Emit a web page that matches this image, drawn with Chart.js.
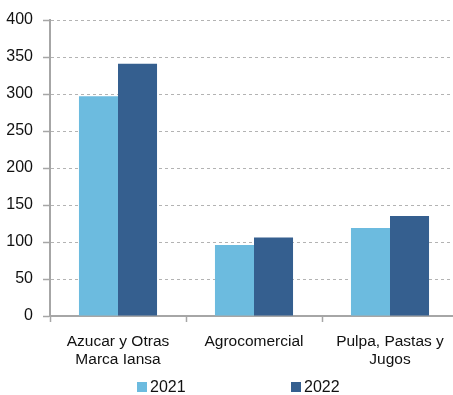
<!DOCTYPE html>
<html>
<head>
<meta charset="utf-8">
<script src="https://cdn.jsdelivr.net/npm/chart.js@4.4.1/dist/chart.umd.min.js"></script>
<style>
html,body{margin:0;padding:0;overflow:hidden;background:#fff;}
#wrap{width:458px;height:395px;position:relative;}
</style>
</head>
<body>
<div id="wrap"><canvas id="c"></canvas></div>
<script>
const categories = [["Azucar y Otras", "Marca Iansa"], "Agrocomercial", ["Pulpa, Pastas y", "Jugos"]];
const seriesNames = ["2021", "2022"];
const values2021 = [297, 96, 119];
const values2022 = [341, 106, 135];
const yTicks = [0, 50, 100, 150, 200, 250, 300, 350, 400];
const colors = ["#6cbbdf", "#355f8f"];

const FONT = "'Liberation Sans', Arial, sans-serif";

const legendPlugin = {
  id: 'customLegend',
  afterDraw(chart) {
    const ctx = chart.ctx;
    const items = chart.data.datasets;
    const xs = [137, 291];
    const y = 387;
    ctx.save();
    ctx.font = "16px " + FONT;
    ctx.textBaseline = 'middle';
    items.forEach((ds, i) => {
      ctx.fillStyle = ds.backgroundColor;
      ctx.fillRect(xs[i], y - 5, 10, 10);
      ctx.fillStyle = '#111';
      ctx.fillText(ds.label, xs[i] + 13, y + 1);
    });
    ctx.restore();
  }
};

new Chart(document.getElementById('c'), {
  type: 'bar',
  data: {
    labels: categories,
    datasets: [
      { label: seriesNames[0], data: values2021, backgroundColor: colors[0], borderColor: '#8cc9e6', borderWidth: 0 },
      { label: seriesNames[1], data: values2022, backgroundColor: colors[1], borderColor: '#4a73a0', borderWidth: 0 }
    ]
  },
  options: {
    responsive: true,
    maintainAspectRatio: false,
    animation: false,
    layout: { padding: { top: 20, right: 0, left: 0, bottom: 0 } },
    plugins: { legend: { display: false }, tooltip: { enabled: false } },
    datasets: { bar: { categoryPercentage: 0.574, barPercentage: 1.0 } },
    scales: {
      x: {
        afterFit(scale) { scale.height = 79; },
        grid: { drawOnChartArea: false, drawTicks: true, offset: true, tickLength: 6, tickColor: '#a6a6a6', tickWidth: 1.5 },
        border: { color: '#a6a6a6', width: 2 },
        ticks: { color: '#111', font: { family: FONT, size: 15.5 }, padding: 10, maxRotation: 0, autoSkip: false }
      },
      y: {
        min: 0, max: 400,
        afterFit(scale) { scale.width = 50; },
        afterBuildTicks(scale) { scale.ticks = yTicks.map(v => ({ value: v })); },
        grid: { color: '#b3b3b3', lineWidth: 1, drawTicks: true, tickLength: 7, tickColor: '#a6a6a6', tickBorderDash: [], tickWidth: 1.5 },
        border: { color: '#a6a6a6', width: 2, dash: [3, 3] },
        ticks: { color: '#111', font: { family: FONT, size: 16 }, padding: 10 }
      }
    }
  },
  plugins: [legendPlugin]
});
</script>
</body>
</html>
